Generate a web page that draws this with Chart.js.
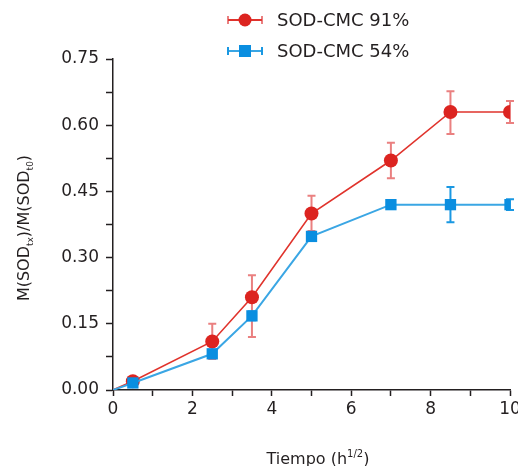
<!DOCTYPE html>
<html>
<head>
<meta charset="utf-8">
<script src="https://cdn.jsdelivr.net/npm/chart.js@4"></script>
<style>
html,body{margin:0;padding:0;background:#fff;}
#wrap{width:518px;height:466px;position:relative;}
</style>
</head>
<body>
<div id="wrap"><canvas id="c" width="518" height="466"></canvas></div>
<script>
// ---- data ----
const timeX = [0, 0.5, 2.5, 3.5, 5, 7, 8.5, 10];
const sod91 = [0, 0.02, 0.11, 0.21, 0.40, 0.52, 0.63, 0.63];
const err91Up = [0, 0.005, 0.04, 0.05, 0.04, 0.04, 0.047, 0.025];
const err91Down = [0, 0.005, 0.04, 0.09, 0.04, 0.04, 0.05, 0.025];
const sod54 = [0, 0.016, 0.082, 0.168, 0.348, 0.42, 0.42, 0.42];
const err54Up = [0, 0.004, 0.008, 0.01, 0.01, 0.005, 0.04, 0.012];
const err54Down = [0, 0.004, 0.008, 0.01, 0.01, 0.005, 0.04, 0.012];
const seriesNames = ['SOD-CMC 91%', 'SOD-CMC 54%'];
const xTickLabels = ['0', '2', '4', '6', '8', '10'];
const yTickLabels = ['0.00', '0.15', '0.30', '0.45', '0.60', '0.75'];

const RED = '#dc2420', RED_LINE = '#e0332c', RED_ERR = 'rgba(222,60,60,0.65)';
const BLUE = '#0a8ee0', BLUE_LINE = '#3aa6e4', BLUE_ERR = '#1a98e2';
const FONT = '"DejaVu Sans", sans-serif';
const TXT = '#231f20';

function pts(ys){ return timeX.map((x,i)=>({x:x,y:ys[i]})); }

const errorBars = {
  id:'errorBars',
  beforeDatasetsDraw(chart){
    const ctx = chart.ctx, ys = chart.scales.y, xs = chart.scales.x;
    const sets = [[sod91, err91Up, err91Down, RED_ERR],[sod54, err54Up, err54Down, BLUE_ERR]];
    ctx.save();
    sets.forEach(([v,u,d,col])=>{
      ctx.strokeStyle = col; ctx.lineWidth = 2;
      v.forEach((val,i)=>{
        if (u[i] === 0 && d[i] === 0) return;
        const px = xs.getPixelForValue(timeX[i]);
        const top = ys.getPixelForValue(val + u[i]);
        const bot = ys.getPixelForValue(val - d[i]);
        ctx.beginPath();
        ctx.moveTo(px, top); ctx.lineTo(px, bot);
        ctx.moveTo(px-4, top); ctx.lineTo(px+4, top);
        ctx.moveTo(px-4, bot); ctx.lineTo(px+4, bot);
        ctx.stroke();
      });
    });
    ctx.restore();
  }
};

const decor = {
  id:'decor',
  afterDraw(chart){
    const ctx = chart.ctx;
    ctx.save();
    // legend
    const rows = [[20, RED_ERR, RED, 'circle', seriesNames[0], RED_LINE],[51, BLUE_ERR, BLUE, 'square', seriesNames[1], BLUE_LINE]];
    rows.forEach(([y, ecol, mcol, shape, label, lcol])=>{
      ctx.strokeStyle = lcol; ctx.lineWidth = 2;
      ctx.beginPath(); ctx.moveTo(228,y); ctx.lineTo(262,y); ctx.stroke();
      ctx.strokeStyle = ecol;
      ctx.beginPath(); ctx.moveTo(228,y-4); ctx.lineTo(228,y+4); ctx.moveTo(262,y-4); ctx.lineTo(262,y+4); ctx.stroke();
      ctx.fillStyle = mcol;
      if (shape === 'circle'){ ctx.beginPath(); ctx.arc(245,y,6.5,0,Math.PI*2); ctx.fill(); }
      else { ctx.fillRect(239,y-6,12,12); }
      ctx.fillStyle = TXT; ctx.font = '18px ' + FONT; ctx.textBaseline = 'middle'; ctx.textAlign = 'left';
      ctx.fillText(label, 277, y+1);
    });
    // x title with superscript
    ctx.textBaseline = 'alphabetic';
    const t1 = 'Tiempo (h', t2 = '1/2', t3 = ')';
    ctx.font = '16px ' + FONT; const w1 = ctx.measureText(t1).width, w3 = ctx.measureText(t3).width;
    ctx.font = '10px ' + FONT; const w2 = ctx.measureText(t2).width;
    let x0 = 318 - (w1+w2+w3)/2, by = 464;
    ctx.fillStyle = TXT;
    ctx.font = '16px ' + FONT; ctx.fillText(t1, x0, by);
    ctx.font = '10px ' + FONT; ctx.fillText(t2, x0+w1, by-7);
    ctx.font = '16px ' + FONT; ctx.fillText(t3, x0+w1+w2, by);
    // y title with subscripts (rotated)
    ctx.translate(29, 228); ctx.rotate(-Math.PI/2);
    const parts = [['M(SOD',0],['tx',1],[')/M(SOD',0],['t0',1],[')',0]];
    let total = 0;
    parts.forEach(([s,sub])=>{ ctx.font = (sub?'9px ':'16px ') + FONT; total += ctx.measureText(s).width; });
    let cx = -total/2;
    parts.forEach(([s,sub])=>{
      ctx.font = (sub?'9px ':'16px ') + FONT;
      ctx.fillText(s, cx, sub ? 4 : 0);
      cx += ctx.measureText(s).width;
    });
    ctx.restore();
  }
};

new Chart(document.getElementById('c'), {
  type:'line',
  data:{ datasets:[
    { label: seriesNames[0], data: pts(sod91), borderColor: RED_LINE, backgroundColor: RED, borderWidth: 1.6,
      pointRadius: timeX.map(x=> x===0?0:7), pointHoverRadius: 7, pointBackgroundColor: RED, pointBorderWidth: 0,
      pointStyle:'circle', order: 2, tension: 0 },
    { label: seriesNames[1], data: pts(sod54), borderColor: BLUE_LINE, backgroundColor: BLUE, borderWidth: 2,
      pointRadius: timeX.map(x=> x===0?0:8), pointHoverRadius: 8, pointBackgroundColor: BLUE, pointBorderWidth: 0,
      pointStyle:'rect', order: 1, tension: 0 }
  ]},
  options:{
    responsive:false, animation:false, devicePixelRatio:1,
    layout:{ padding:{ left:0, right:8, top:59, bottom:0 } },
    plugins:{ legend:{display:false}, tooltip:{enabled:false} },
    scales:{
      x:{ type:'linear', min:0, max:10,
        border:{ display:true, color:'#231f20', width:1.5 },
        grid:{ display:true, drawOnChartArea:false, drawTicks:true, tickLength:6, tickColor:'#231f20', tickWidth:1.5 },
        ticks:{ stepSize:1, color:TXT, font:{ family:FONT, size:17 }, padding:3, maxRotation:0, autoSkip:false,
          callback:(v)=>{ const i = xTickLabels.indexOf(String(v)); return i>=0 ? xTickLabels[i] : ''; } },
        afterFit:(s)=>{ s.height = 76; s.paddingLeft = 0; s.paddingRight = 0; }
      },
      y:{ type:'linear', min:0, max:0.75,
        border:{ display:true, color:'#231f20', width:1.5 },
        grid:{ display:true, drawOnChartArea:false, drawTicks:true, tickLength:7, tickColor:'#231f20', tickWidth:1.5 },
        ticks:{ stepSize:0.075, color:TXT, font:{ family:FONT, size:17 }, padding:7, autoSkip:false,
          callback:(v)=>{ const s = Number(v).toFixed(2); return yTickLabels.includes(s) && Math.abs(v/0.15 - Math.round(v/0.15))<1e-6 ? s : ''; } },
        afterFit:(s)=>{ s.width = 113; s.paddingTop = 0; s.paddingBottom = 0; }
      }
    }
  },
  plugins:[errorBars, decor]
});
</script>
</body>
</html>
